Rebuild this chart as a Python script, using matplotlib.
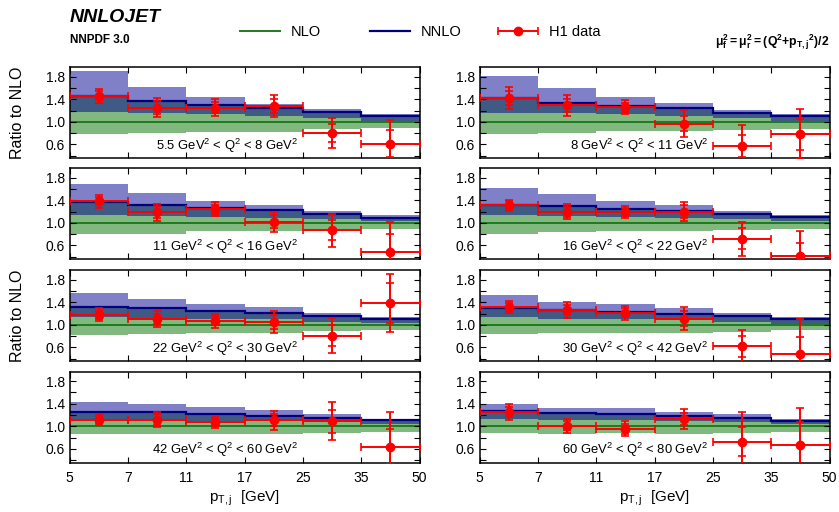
import matplotlib

matplotlib.use("Agg")
import matplotlib.pyplot as plt
import numpy as np
from matplotlib.legend_handler import HandlerErrorbar
from matplotlib.lines import Line2D

plt.rcParams["font.family"] = ["Liberation Sans", "DejaVu Sans"]
plt.rcParams["mathtext.fontset"] = "custom"
plt.rcParams["mathtext.rm"] = "Liberation Sans"
plt.rcParams["mathtext.it"] = "Liberation Sans:italic"
plt.rcParams["mathtext.bf"] = "Liberation Sans:bold"

# pT,j bin edges (drawn equally spaced)
pt_edges = ["5", "7", "11", "17", "25", "35", "50"]

q2_labels = [
    "5.5 GeV$^2$ < Q$^2$ < 8 GeV$^2$",
    "8 GeV$^2$ < Q$^2$ < 11 GeV$^2$",
    "11 GeV$^2$ < Q$^2$ < 16 GeV$^2$",
    "16 GeV$^2$ < Q$^2$ < 22 GeV$^2$",
    "22 GeV$^2$ < Q$^2$ < 30 GeV$^2$",
    "30 GeV$^2$ < Q$^2$ < 42 GeV$^2$",
    "42 GeV$^2$ < Q$^2$ < 60 GeV$^2$",
    "60 GeV$^2$ < Q$^2$ < 80 GeV$^2$",
]

# NLO scale band (ratio to NLO)
nlo_lo = [
    [0.78, 0.81, 0.82, 0.82, 0.88, 0.89],
    [0.79, 0.81, 0.84, 0.84, 0.86, 0.88],
    [0.80, 0.81, 0.85, 0.85, 0.88, 0.89],
    [0.80, 0.83, 0.85, 0.85, 0.88, 0.89],
    [0.82, 0.84, 0.86, 0.86, 0.89, 0.90],
    [0.83, 0.85, 0.86, 0.86, 0.88, 0.90],
    [0.87, 0.86, 0.87, 0.86, 0.89, 0.90],
    [0.89, 0.87, 0.88, 0.87, 0.89, 0.90],
]
nlo_hi = [
    [1.18, 1.16, 1.13, 1.10, 1.06, 1.02],
    [1.16, 1.15, 1.14, 1.10, 1.06, 1.01],
    [1.14, 1.12, 1.11, 1.09, 1.06, 1.04],
    [1.13, 1.12, 1.11, 1.08, 1.06, 1.04],
    [1.14, 1.11, 1.11, 1.10, 1.05, 1.04],
    [1.13, 1.11, 1.10, 1.08, 1.05, 1.02],
    [1.13, 1.13, 1.10, 1.10, 1.07, 1.04],
    [1.13, 1.11, 1.11, 1.10, 1.07, 1.04],
]
# NNLO central and upper edge
nnlo_mid = [
    [1.46, 1.36, 1.29, 1.24, 1.17, 1.10],
    [1.42, 1.34, 1.28, 1.24, 1.16, 1.11],
    [1.37, 1.31, 1.26, 1.22, 1.16, 1.09],
    [1.32, 1.29, 1.25, 1.21, 1.16, 1.10],
    [1.32, 1.29, 1.24, 1.21, 1.15, 1.11],
    [1.30, 1.26, 1.23, 1.20, 1.15, 1.11],
    [1.26, 1.26, 1.21, 1.18, 1.15, 1.11],
    [1.27, 1.23, 1.21, 1.18, 1.15, 1.10],
]
nnlo_hi = [
    [1.90, 1.62, 1.44, 1.32, 1.22, 1.14],
    [1.81, 1.59, 1.44, 1.34, 1.21, 1.14],
    [1.69, 1.53, 1.39, 1.32, 1.21, 1.13],
    [1.62, 1.51, 1.38, 1.31, 1.21, 1.13],
    [1.57, 1.45, 1.36, 1.32, 1.21, 1.14],
    [1.52, 1.41, 1.36, 1.29, 1.21, 1.14],
    [1.43, 1.40, 1.35, 1.29, 1.21, 1.13],
    [1.39, 1.33, 1.32, 1.26, 1.21, 1.13],
]
# H1 data / NLO
h1_val = [
    [1.46, 1.25, 1.25, 1.28, 0.80, 0.61],
    [1.42, 1.29, 1.26, 0.97, 0.57, 0.78],
    [1.38, 1.19, 1.24, 1.02, 0.87, 0.48],
    [1.31, 1.20, 1.19, 1.20, 0.72, 0.42],
    [1.18, 1.11, 1.07, 1.05, 0.81, 1.39],
    [1.32, 1.26, 1.21, 1.11, 0.62, 0.49],
    [1.12, 1.12, 1.07, 1.11, 1.09, 0.64],
    [1.26, 1.01, 0.96, 1.13, 0.73, 0.67],
]
h1_tot = [
    [0.12, 0.17, 0.15, 0.19, 0.27, 0.42],
    [0.19, 0.19, 0.13, 0.24, 0.37, 0.44],
    [0.11, 0.15, 0.12, 0.18, 0.29, 0.54],
    [0.10, 0.14, 0.10, 0.17, 0.30, 0.44],
    [0.11, 0.14, 0.12, 0.20, 0.31, 0.51],
    [0.11, 0.14, 0.12, 0.21, 0.29, 0.62],
    [0.10, 0.14, 0.10, 0.17, 0.34, 0.62],
    [0.14, 0.12, 0.13, 0.17, 0.53, 0.65],
]
h1_stat = [
    [0.08, 0.11, 0.10, 0.12, 0.16, 0.24],
    [0.12, 0.12, 0.08, 0.13, 0.19, 0.27],
    [0.07, 0.10, 0.08, 0.12, 0.18, 0.33],
    [0.07, 0.09, 0.07, 0.11, 0.19, 0.22],
    [0.07, 0.09, 0.08, 0.12, 0.18, 0.35],
    [0.07, 0.09, 0.08, 0.13, 0.19, 0.29],
    [0.06, 0.09, 0.06, 0.11, 0.20, 0.31],
    [0.09, 0.08, 0.09, 0.11, 0.25, 0.41],
]

C_GREEN = "#80b880"
C_SLATE = "#3f5a84"
C_LBLUE = "#8080c8"
C_NLO = "#1f7a1f"
C_NNLO = "#00007f"
C_DATA = "#ff0000"


def draw_panel(ax, i, bottom_row):
    edges = np.arange(len(pt_edges))
    centers = edges[:-1] + 0.5
    ax.stairs(nlo_hi[i], edges, baseline=nlo_lo[i], fill=True, color=C_GREEN, lw=0)
    ax.stairs(nnlo_mid[i], edges, baseline=nlo_hi[i], fill=True, color=C_SLATE, lw=0)
    ax.stairs(nnlo_hi[i], edges, baseline=nnlo_mid[i], fill=True, color=C_LBLUE, lw=0)
    ax.stairs(np.ones(len(centers)), edges, baseline=None, color=C_NLO, lw=1.4)
    ax.stairs(nnlo_mid[i], edges, baseline=None, color=C_NNLO, lw=1.6)

    ax.errorbar(centers, h1_val[i], xerr=0.5, yerr=h1_tot[i], fmt="o", color=C_DATA,
                ms=6, lw=1.4, capsize=2.6, capthick=1.2, zorder=5)
    ax.errorbar(centers, h1_val[i], yerr=h1_stat[i], fmt="none", ecolor=C_DATA,
                lw=1.4, capsize=2.6, capthick=1.2, zorder=5)

    ax.text(3.92, 0.575, q2_labels[i], ha="right", va="center", fontsize=9.4)

    ax.set_xlim(0, len(pt_edges) - 1)
    ax.set_ylim(0.36, 1.97)
    ax.set_xticks(edges)
    ax.set_yticks([0.6, 1.0, 1.4, 1.8])
    ax.set_yticks([0.4, 0.8, 1.2, 1.6], minor=True)
    ax.tick_params(which="both", direction="in", top=True, right=True, length=4,
                   width=0.8, labelsize=10)
    if bottom_row:
        ax.set_xticklabels(pt_edges)
        ax.tick_params(axis="x", pad=6)
    else:
        ax.set_xticklabels([])
    for s in ax.spines.values():
        s.set_linewidth(1.1)


def main():
    fig = plt.figure(figsize=(8.39, 5.12), dpi=100)
    W, H = 839.0, 512.0
    col_left = [69.5, 479.5]
    row_top = [67.0, 168.0, 270.0, 371.5]
    aw, ah = 350.0, 91.0

    axes = []
    for i in range(len(q2_labels)):
        r, c = divmod(i, 2)
        ax = fig.add_axes([col_left[c] / W, 1 - (row_top[r] + ah) / H, aw / W, ah / H])
        draw_panel(ax, i, r == 3)
        axes.append(ax)
        if c == 0 and r in (0, 2):
            ax.set_ylabel("Ratio to NLO", fontsize=11.5, labelpad=15)
        if r == 3:
            ax.set_xlabel(r"p$_{\rm T,j}$  [GeV]", fontsize=11, labelpad=3)

    fig.text(70 / W, 1 - 18 / H, "NNLOJET", fontsize=14, fontweight="bold",
             fontstyle="italic", va="center", ha="left")
    fig.text(70 / W, 1 - 40 / H, "NNPDF 3.0", fontsize=8.5, fontweight="bold",
             va="center", ha="left")
    fig.text(829 / W, 1 - 42 / H,
             r"$\mathbf{\mu_f^2{=}\mu_r^2{=}(Q^2{+}{p_{T,j}}^2)/2}$",
             fontsize=8.8, va="center", ha="right")

    # legend proxies (drawn outside the visible range)
    h_nlo = Line2D([], [], color=C_NLO, lw=1.4)
    h_nnlo = Line2D([], [], color=C_NNLO, lw=1.6)
    h_data = axes[0].errorbar([-10], [-10], xerr=[1], fmt="o", color=C_DATA, ms=6,
                              lw=1.4, capsize=2.6, capthick=1.2)
    entries = [(h_nlo, "NLO", 240), (h_nnlo, "NNLO", 370), (h_data, "H1 data", 498)]
    for handle, label, x0 in entries:
        fig.legend([handle], [label], loc="center left",
                   bbox_to_anchor=(x0 / W, 1 - 32 / H), frameon=False,
                   fontsize=10.5, handlelength=2.75, handletextpad=0.75,
                   borderpad=0, borderaxespad=0,
                   handler_map={type(h_data): HandlerErrorbar(xerr_size=1.37)})

    fig.savefig("out.png", dpi=100)
    plt.close(fig)


if __name__ == "__main__":
    main()
